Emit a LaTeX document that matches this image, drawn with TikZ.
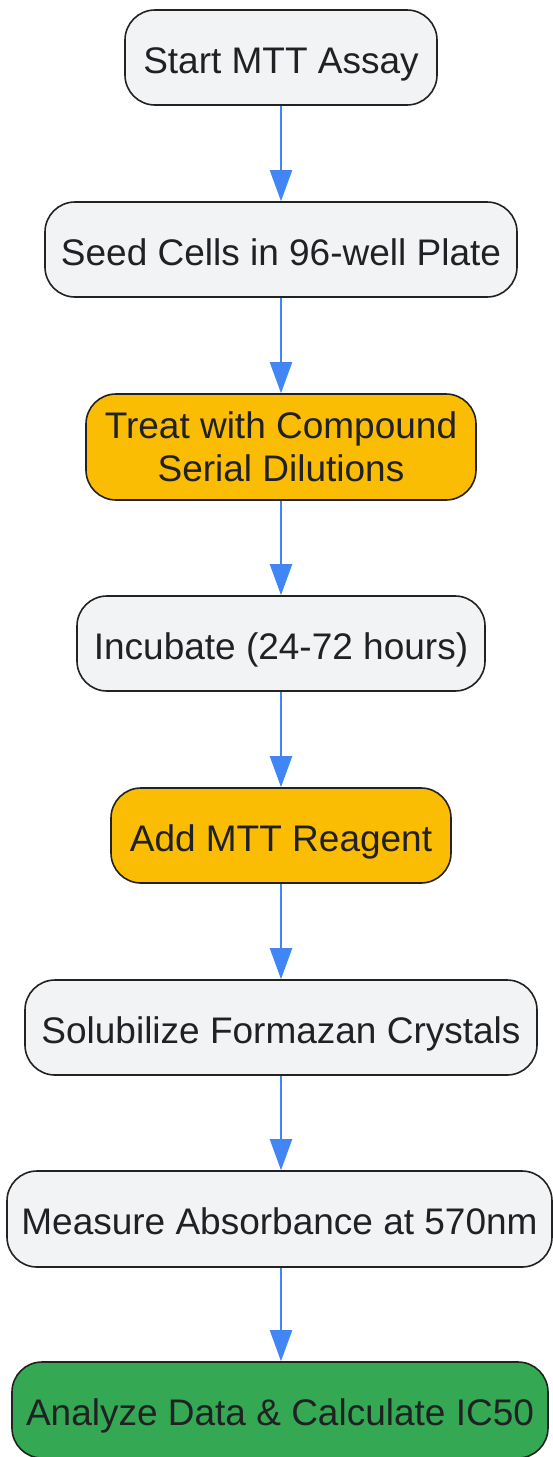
\documentclass[tikz,border=0pt]{standalone}
\usepackage{fontspec}
\setmainfont{Liberation Sans}
\usetikzlibrary{arrows.meta}
\definecolor{boxgray}{HTML}{F1F3F4}
\definecolor{boxorange}{HTML}{FBBC04}
\definecolor{boxgreen}{HTML}{34A853}
\definecolor{arrowblue}{HTML}{4285F4}
\definecolor{textdark}{HTML}{202124}
\definecolor{borderdark}{HTML}{222222}
\tikzset{
  basebox/.style={draw=borderdark, line width=1.6pt, rounded corners=30pt,
    fill=boxgray, text=textdark, inner sep=0pt, align=center,
    font=\fontsize{37}{43}\selectfont, minimum height=95pt},
  stepbox/.style={basebox, text height=31pt, text depth=0pt},
  orangebox/.style={basebox, fill=boxorange},
  greenbox/.style={stepbox, fill=boxgreen},
  flow/.style={draw=arrowblue, line width=2.2pt, -{Triangle[length=31pt,width=22pt]}}
}
\begin{document}
\begin{tikzpicture}[x=1pt,y=-1pt]
\useasboundingbox (0,0) rectangle (553,1457);
\node[stepbox, minimum width=312pt] (n1) at (281,57.5) {Start MTT Assay};
\node[stepbox, minimum width=472pt] (n2) at (281,249.5) {Seed Cells in 96-well Plate};
\node[orangebox, minimum width=390pt, minimum height=106pt] (n3) at (281,447) {Treat with Compound\\Serial Dilutions};
\node[stepbox, minimum width=408pt] (n4) at (281,643.5) {Incubate (24-72 hours)};
\node[orangebox, stepbox, fill=boxorange, minimum width=340pt] (n5) at (281,835.5) {Add MTT Reagent};
\node[stepbox, minimum width=512pt] (n6) at (281,1027.5) {Solubilize Formazan Crystals};
\node[stepbox, minimum width=545pt, minimum height=96pt] (n7) at (279.5,1219) {Measure Absorbance at 570nm};
\node[greenbox, minimum width=536pt, minimum height=96pt] (n8) at (280,1410) {Analyze Data \& Calculate IC50};
\draw[flow] (n1) -- (n2);
\draw[flow] (n2) -- (n3);
\draw[flow] (n3) -- (n4);
\draw[flow] (n4) -- (n5);
\draw[flow] (n5) -- (n6);
\draw[flow] (n6.south) -- (n6.south |- n7.north);
\draw[flow] (n6.south |- n7.south) -- (n6.south |- n8.north);
\end{tikzpicture}
\end{document}
